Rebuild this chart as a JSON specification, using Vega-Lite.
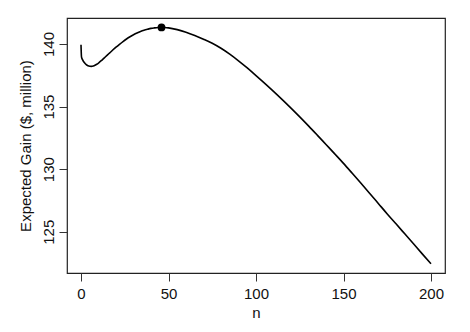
{
  "$schema": "https://vega.github.io/schema/vega-lite/v6.json",
  "autosize": "none",
  "width": 378,
  "height": 255,
  "padding": {"left": 67, "top": 18, "right": 25, "bottom": 59},
  "background": "white",
  "config": {
    "view": {"stroke": "#222222", "strokeWidth": 1.2},
    "font": "Liberation Sans",
    "axis": {
      "grid": false,
      "domain": false,
      "tickColor": "#333333",
      "tickSize": 8,
      "tickWidth": 1,
      "labelFont": "Liberation Sans",
      "labelFontSize": 15,
      "labelColor": "#111111",
      "titleFont": "Liberation Sans",
      "titleFontSize": 15,
      "titleFontWeight": "normal",
      "titleColor": "#111111"
    }
  },
  "datasets": {
    "curve": [
      {"n": 0, "gain": 139.95},
      {"n": 0.3, "gain": 138.95},
      {"n": 1, "gain": 138.72},
      {"n": 2, "gain": 138.5},
      {"n": 3, "gain": 138.35},
      {"n": 4, "gain": 138.26},
      {"n": 5, "gain": 138.22},
      {"n": 6, "gain": 138.21},
      {"n": 7, "gain": 138.24},
      {"n": 8, "gain": 138.3},
      {"n": 9, "gain": 138.38},
      {"n": 10, "gain": 138.48},
      {"n": 12, "gain": 138.72},
      {"n": 14, "gain": 138.98},
      {"n": 16, "gain": 139.24},
      {"n": 18, "gain": 139.5},
      {"n": 20, "gain": 139.75},
      {"n": 22, "gain": 139.98},
      {"n": 24, "gain": 140.2},
      {"n": 26, "gain": 140.4},
      {"n": 28, "gain": 140.58},
      {"n": 30, "gain": 140.74},
      {"n": 32, "gain": 140.88},
      {"n": 34, "gain": 141.0},
      {"n": 36, "gain": 141.1},
      {"n": 38, "gain": 141.18},
      {"n": 40, "gain": 141.25},
      {"n": 42, "gain": 141.29},
      {"n": 44, "gain": 141.32},
      {"n": 46, "gain": 141.33},
      {"n": 48, "gain": 141.32},
      {"n": 50, "gain": 141.29},
      {"n": 55, "gain": 141.15},
      {"n": 60, "gain": 140.95},
      {"n": 65, "gain": 140.69},
      {"n": 70, "gain": 140.39},
      {"n": 75, "gain": 140.06},
      {"n": 80, "gain": 139.66},
      {"n": 85, "gain": 139.19},
      {"n": 90, "gain": 138.66},
      {"n": 95, "gain": 138.09},
      {"n": 100, "gain": 137.48},
      {"n": 105, "gain": 136.86},
      {"n": 110, "gain": 136.22},
      {"n": 115, "gain": 135.56},
      {"n": 120, "gain": 134.88},
      {"n": 125, "gain": 134.18},
      {"n": 130, "gain": 133.46},
      {"n": 135, "gain": 132.72},
      {"n": 140, "gain": 131.97},
      {"n": 145, "gain": 131.22},
      {"n": 150, "gain": 130.46},
      {"n": 155, "gain": 129.67},
      {"n": 160, "gain": 128.87},
      {"n": 165, "gain": 128.06},
      {"n": 170, "gain": 127.24},
      {"n": 175, "gain": 126.42},
      {"n": 180, "gain": 125.63},
      {"n": 185, "gain": 124.83},
      {"n": 190, "gain": 124.03},
      {"n": 195, "gain": 123.23},
      {"n": 200, "gain": 122.44}
    ],
    "optimum": [
      {"n": 46, "gain": 141.33}
    ]
  },
  "layer": [
    {
      "data": {"name": "curve"},
      "mark": {"type": "line", "color": "#000000", "strokeWidth": 1.6, "interpolate": "monotone", "clip": true},
      "encoding": {
        "x": {
          "field": "n", "type": "quantitative",
          "scale": {"domain": [-8, 208], "nice": false, "zero": false},
          "axis": {"values": [0, 50, 100, 150, 200], "title": "n", "labelPadding": 5, "titlePadding": 4}
        },
        "y": {
          "field": "gain", "type": "quantitative",
          "scale": {"domain": [121.7, 142.08], "nice": false, "zero": false},
          "axis": {
            "values": [125, 130, 135, 140],
            "title": "Expected Gain ($, million)",
            "labelAngle": -90,
            "labelAlign": "center",
            "labelBaseline": "bottom",
            "labelPadding": 3,
            "titlePadding": 8
          }
        }
      }
    },
    {
      "data": {"name": "optimum"},
      "mark": {"type": "point", "filled": true, "color": "#000000", "opacity": 1, "size": 60},
      "encoding": {
        "x": {"field": "n", "type": "quantitative"},
        "y": {"field": "gain", "type": "quantitative"}
      }
    }
  ]
}
